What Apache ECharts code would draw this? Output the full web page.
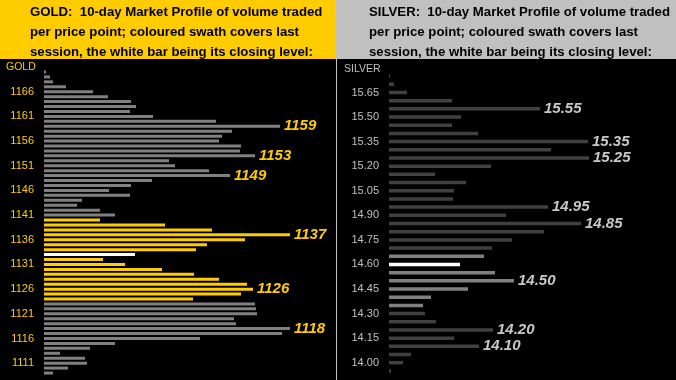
<!DOCTYPE html>
<html>
<head>
<meta charset="utf-8">
<script src="https://cdn.jsdelivr.net/npm/echarts@6/dist/echarts.min.js"></script>
<style>html,body{margin:0;padding:0;background:#000;}#c{width:676px;height:380px;}</style>
</head>
<body>
<div id="c"></div>
<script>
// ---------- GOLD ----------
const goldPrices = ['1170','1169','1168','1167','1166','1165','1164','1163','1162','1161',
  '1160','1159','1158','1157','1156','1155','1154','1153','1152','1151',
  '1150','1149','1148','1147','1146','1145','1144','1143','1142','1141',
  '1140','1139','1138','1137','1136','1135','1134','1133','1132','1131',
  '1130','1129','1128','1127','1126','1125','1124','1123','1122','1121',
  '1120','1119','1118','1117','1116','1115','1114','1113','1112','1111',
  '1110','1109'];
const goldVolume = [2,6,9,22,49,64,87,92,86,109,
  172,236,188,178,175,197,196,211,125,131,
  165,186,108,87,65,86,38,33,56,71,
  56,121,168,246,201,163,152,91,59,81,
  118,150,175,203,209,197,149,211,212,213,
  190,192,246,238,156,71,46,16,41,43,
  24,9];
const goldTicks = ['1166','1161','1156','1151','1146','1141','1136','1131','1126','1121','1116','1111'];
const goldSession = ['1140','1139','1138','1137','1136','1135','1134','1132','1131','1130','1129','1128','1127','1126','1125','1124'];
const goldClose = '1133';
const goldLabeled = ['1159','1153','1149','1137','1126','1118'];

// ---------- SILVER ----------
const silverPrices = ['15.75','15.70','15.65','15.60','15.55','15.50','15.45','15.40','15.35','15.30',
  '15.25','15.20','15.15','15.10','15.05','15.00','14.95','14.90','14.85','14.80',
  '14.75','14.70','14.65','14.60','14.55','14.50','14.45','14.40','14.35','14.30',
  '14.25','14.20','14.15','14.10','14.05','14.00','13.95'];
const silverVolume = [1,5,18,63,151,72,63,89,199,162,
  200,102,46,77,65,64,159,117,192,155,
  123,103,95,71,106,125,79,42,34,36,
  47,104,65,90,22,14,2];
const silverTicks = ['15.65','15.50','15.35','15.20','15.05','14.90','14.75','14.60','14.45','14.30','14.15','14.00'];
const silverSession = ['14.65','14.55','14.50','14.45','14.40','14.35'];
const silverClose = '14.60';
const silverLabeled = ['15.55','15.35','15.25','14.95','14.85','14.50','14.20','14.10'];

const GOLD_Y = '#FFCC00';
const SILV = '#C0C0C0';
const FONT = 'Arial, "Liberation Sans", sans-serif';

function buildData(prices, vols, session, close, labeled, baseColor, sessColor, labelColor) {
  return prices.map((p, i) => {
    let color = baseColor;
    if (p === close) color = '#FFFFFF';
    else if (session.includes(p)) color = sessColor;
    const item = { value: vols[i], itemStyle: { color } };
    if (labeled.includes(p)) {
      item.label = {
        show: true, position: 'right', distance: 4,
        formatter: p, color: labelColor, fontFamily: FONT,
        fontStyle: 'italic', fontWeight: 'bold', fontSize: 15
      };
    }
    return item;
  });
}

const chart = echarts.init(document.getElementById('c'));
const option = {
  backgroundColor: '#000000',
  animation: false,
  grid: [
    { left: 44, top: 69.5, width: 290, height: 306 },
    { left: 389, top: 72, width: 280, height: 303 }
  ],
  xAxis: [
    { gridIndex: 0, type: 'value', min: 0, max: 290, show: false },
    { gridIndex: 1, type: 'value', min: 0, max: 280, show: false }
  ],
  yAxis: [
    { gridIndex: 0, type: 'category', data: goldPrices, inverse: true,
      axisLine: { show: false }, axisTick: { show: false }, splitLine: { show: false },
      axisLabel: { color: GOLD_Y, fontFamily: FONT, fontSize: 11, margin: 10,
        interval: (idx, val) => goldTicks.includes(val) } },
    { gridIndex: 1, type: 'category', data: silverPrices, inverse: true,
      axisLine: { show: false }, axisTick: { show: false }, splitLine: { show: false },
      axisLabel: { color: SILV, fontFamily: FONT, fontSize: 11, margin: 10,
        interval: (idx, val) => silverTicks.includes(val) } }
  ],
  series: [
    { type: 'bar', xAxisIndex: 0, yAxisIndex: 0, barWidth: 3,
      data: buildData(goldPrices, goldVolume, goldSession, goldClose, goldLabeled, '#808080', GOLD_Y, GOLD_Y) },
    { type: 'bar', xAxisIndex: 1, yAxisIndex: 1, barWidth: 3.5,
      data: buildData(silverPrices, silverVolume, silverSession, silverClose, silverLabeled, '#404040', '#808080', '#C8C8C8') }
  ],
  graphic: [
    { type: 'rect', shape: { x: 0, y: 0, width: 336, height: 59 }, style: { fill: GOLD_Y }, silent: true },
    { type: 'rect', shape: { x: 336, y: 0, width: 340, height: 59 }, style: { fill: SILV }, silent: true },
    { type: 'line', shape: { x1: 336.5, y1: 59, x2: 336.5, y2: 380 }, style: { stroke: SILV, lineWidth: 1 }, silent: true },
    { type: 'text', left: 30, top: 2, style: { text: 'GOLD:  10-day Market Profile of volume traded\nper price point; coloured swath covers last\nsession, the white bar being its closing level:',
        fill: '#000', font: 'bold 13.2px ' + FONT, lineHeight: 20 } },
    { type: 'text', left: 369, top: 2, style: { text: 'SILVER:  10-day Market Profile of volume traded\nper price point; coloured swath covers last\nsession, the white bar being its closing level:',
        fill: '#000', font: 'bold 13.2px ' + FONT, lineHeight: 20 } },
    { type: 'text', left: 6, top: 62, style: { text: 'GOLD', fill: GOLD_Y, font: '10.5px ' + FONT } },
    { type: 'text', left: 344, top: 64, style: { text: 'SILVER', fill: SILV, font: '10.5px ' + FONT } }
  ]
};
chart.setOption(option);
</script>
</body>
</html>
